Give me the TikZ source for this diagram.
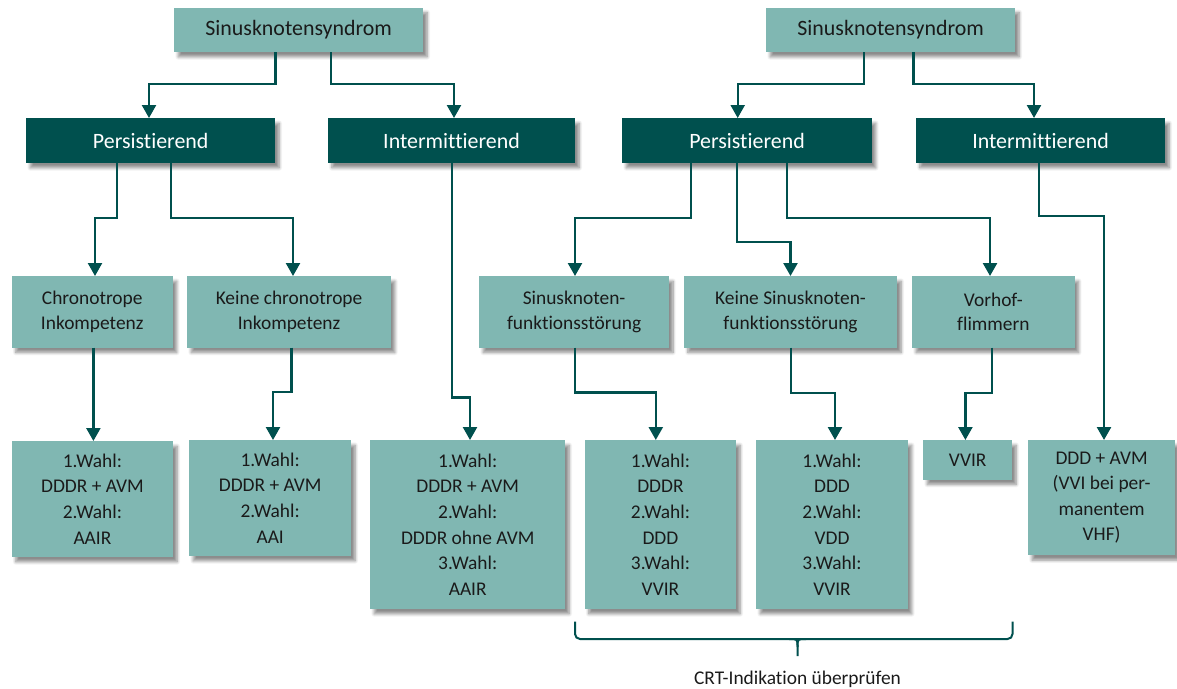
\documentclass[tikz,border=0pt]{standalone}
\usepackage{fontspec}
\setmainfont[Ligatures={NoCommon}]{Carlito}
\usetikzlibrary{arrows.meta,shadows.blur}
\definecolor{lightteal}{HTML}{80B7B2}
\definecolor{darkteal}{HTML}{00504E}
\definecolor{txtgray}{HTML}{1A1A1A}
\tikzset{
 box/.style={anchor=north west, inner sep=0pt, align=center,
   blur shadow={shadow xshift=4pt, shadow yshift=-5pt, shadow blur radius=3pt, shadow blur steps=8, shadow opacity=45}},
 tbox/.style={box, fill=lightteal, text=txtgray, font=\fontsize{21.9}{26}\selectfont},
 dbox/.style={box, fill=darkteal, text=white, font=\fontsize{21.9}{26}\selectfont},
 mbox/.style={box, fill=lightteal, text=txtgray, font=\fontsize{19.4}{24.3}\selectfont},
 lbox/.style={box, fill=lightteal, text=txtgray, font=\fontsize{19.4}{25.6}\selectfont},
 conn/.style={draw=darkteal, line width=2.4pt, -{Triangle[width=14pt,length=13pt]}},
 bracestyle/.style={draw=darkteal, line width=2pt},
}
\begin{document}
\begin{tikzpicture}[x=1pt,y=-1pt]
\useasboundingbox (0,0) rectangle (1177,688);
% top level
\node[tbox, minimum width=249pt, minimum height=44.4pt] (s1) at (174,7.3) {Sinusknotensyndrom};
\node[tbox, minimum width=249pt, minimum height=44.4pt] (s2) at (766,7.3) {Sinusknotensyndrom};
% second level
\node[dbox, minimum width=249pt, minimum height=44.7pt] (p1) at (26,118) {Persistierend};
\node[dbox, minimum width=247.4pt, minimum height=44.7pt] (i1) at (327.6,118) {Intermittierend};
\node[dbox, minimum width=249.6pt, minimum height=44.7pt] (p2) at (622,118) {Persistierend};
\node[dbox, minimum width=249.4pt, minimum height=44.7pt] (i2) at (915.6,118) {Intermittierend};
% third level
\node[mbox, minimum width=161.1pt, minimum height=71.3pt] (c1) at (11.5,276) {Chronotrope\\Inkompetenz};
\node[mbox, minimum width=203.7pt, minimum height=71.3pt] (c2) at (187,276) {Keine chronotrope\\Inkompetenz};
\node[mbox, minimum width=189.8pt, minimum height=71.3pt] (c3) at (479,276) {Sinusknoten-\\funktionsstörung};
\node[mbox, minimum width=213.3pt, minimum height=71.3pt] (c4) at (683.7,276) {Keine Sinusknoten-\\funktionsstörung};
\node[mbox, minimum width=162.7pt, minimum height=71.3pt] (c5) at (911.8,276) {Vorhof-\\flimmern};
% fourth level
\node[lbox, minimum width=161.5pt, minimum height=115.7pt] (b1) at (11.5,441) {1.Wahl:\\DDDR + AVM\\2.Wahl:\\AAIR};
\node[lbox, minimum width=162pt, minimum height=115.7pt] (b2) at (189,440) {1.Wahl:\\DDDR + AVM\\2.Wahl:\\AAI};
\node[lbox, minimum width=195pt, minimum height=168.7pt] (b3) at (370,440) {1.Wahl:\\DDDR + AVM\\2.Wahl:\\DDDR ohne AVM\\3.Wahl:\\AAIR};
\node[lbox, minimum width=151.5pt, minimum height=168.7pt] (b4) at (584.5,440) {1.Wahl:\\DDDR\\2.Wahl:\\DDD\\3.Wahl:\\VVIR};
\node[lbox, minimum width=151.6pt, minimum height=168.7pt] (b5) at (756,440) {1.Wahl:\\DDD\\2.Wahl:\\VDD\\3.Wahl:\\VVIR};
\node[lbox, minimum width=89pt, minimum height=39.3pt] (b6) at (923,440) {VVIR};
\node[lbox, minimum width=147.2pt, minimum height=115pt] (b7) at (1027.8,440) {DDD + AVM\\(VVI bei per-\\manentem\\VHF)};
% connectors
\draw[conn] (275.5,0 |- s1.south) |- (149,84) -- (149,0 |- p1.north);
\draw[conn] (330.7,0 |- s1.south) |- (454,84) -- (454,0 |- i1.north);
\draw[conn] (864,0 |- s2.south) |- (737.7,84) -- (737.7,0 |- p2.north);
\draw[conn] (913.3,0 |- s2.south) |- (1034,84) -- (1034,0 |- i2.north);
\draw[conn] (117,0 |- p1.south) |- (95,217.7) -- (95,0 |- c1.north);
\draw[conn] (170.7,0 |- p1.south) |- (293,217.7) -- (293,0 |- c2.north);
\draw[conn] (691,0 |- p2.south) |- (575,217.7) -- (575,0 |- c3.north);
\draw[conn] (737,0 |- p2.south) |- (790.5,241.7) -- (790.5,0 |- c4.north);
\draw[conn] (787,0 |- p2.south) |- (990,218) -- (990,0 |- c5.north);
\draw[conn] (452,0 |- i1.south) |- (470,397.3) -- (470,0 |- b3.north);
\draw[conn] (1039,0 |- i2.south) |- (1104,215.7) -- (1104,0 |- b7.north);
\draw[conn] (93.4,0 |- c1.south) -- (93.4,0 |- b1.north);
\draw[conn] (291.6,0 |- c2.south) |- (273,391.7) -- (273,0 |- b2.north);
\draw[conn] (575,0 |- c3.south) |- (655.8,392.3) -- (655.8,0 |- b4.north);
\draw[conn] (791,0 |- c4.south) |- (835,392.7) -- (835,0 |- b5.north);
\draw[conn] (992,0 |- c5.south) |- (965.4,392.7) -- (965.4,0 |- b6.north);
% brace
\coordinate (brl) at (575,621.7);
\coordinate (brr) at (1012.5,621.7);
\coordinate (brm) at (797.5,639);
\coordinate (brt) at (797.5,656);
\draw[bracestyle, rounded corners=5pt] (brl) -- (brl |- brm) -- (brr |- brm) -- (brr);
\draw[bracestyle] (789,639) .. controls (797.5,639) .. (797.5,647) -- (brt);
\draw[bracestyle] (806,639) .. controls (797.5,639) .. (797.5,647);
\node[anchor=base, inner sep=0pt, text=txtgray, font=\fontsize{19.4}{24}\selectfont] (crt) at (797.5,684) {CRT-Indikation überprüfen};
\end{tikzpicture}
\end{document}
